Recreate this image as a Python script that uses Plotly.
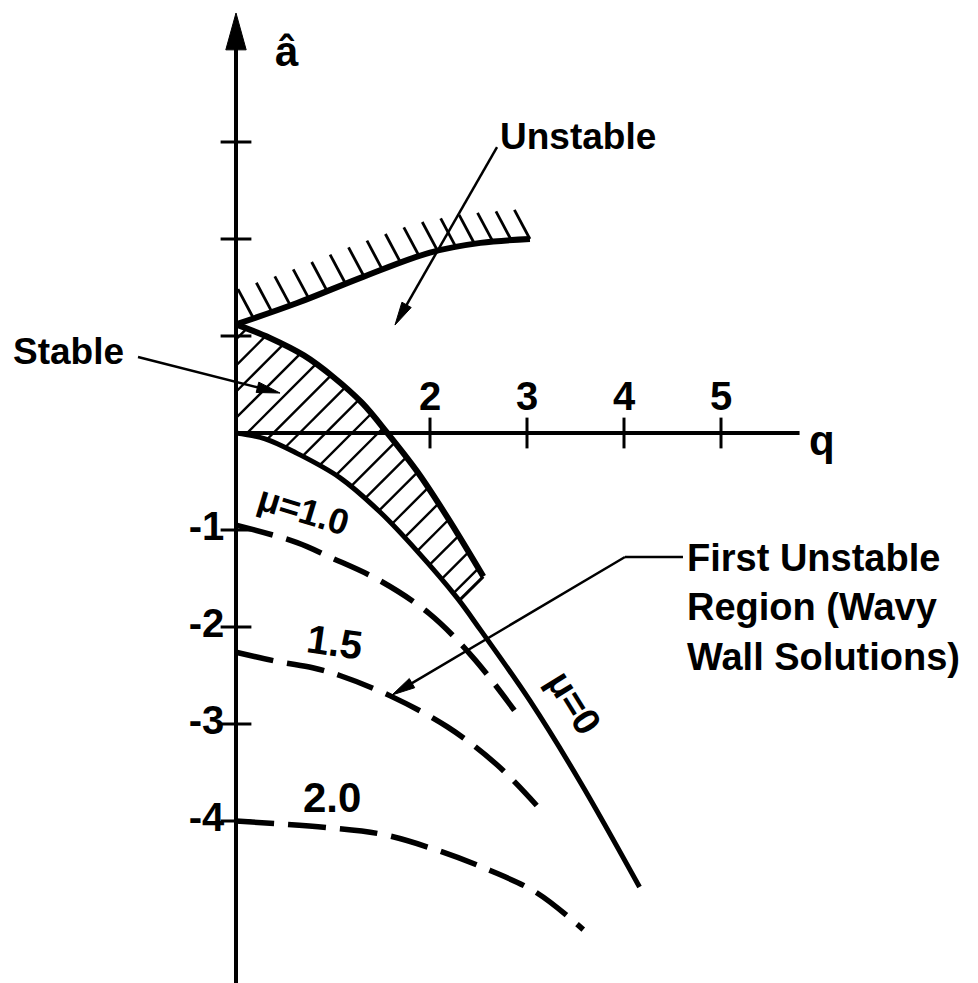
import numpy as np
import plotly.graph_objects as go

# ---------------- data ----------------
Q_TICKS = [2, 3, 4, 5]
Q_TICK_LABELS = ["2", "3", "4", "5"]
A_TICKS = [3, 2, 1, -1, -2, -3, -4]
A_LABEL_TICKS = [-1, -2, -3, -4]
A_TICK_LABELS = ["-1", "-2", "-3", "-4"]

# mu = 0 (solid)
q_mu0 = [0, 0.30, 0.63, 1.07, 1.49, 1.87, 2.28, 2.52, 3.03, 3.55, 4.16]
a_mu0 = [0, -0.06, -0.21, -0.46, -0.82, -1.22, -1.70, -2.03, -2.76, -3.60, -4.68]

# mu = 1.0 (dashed)
q_mu10 = [0, 0.63, 0.97, 1.48, 1.99, 2.44, 2.87]
a_mu10 = [-0.95, -1.13, -1.28, -1.52, -1.86, -2.31, -2.86]

# mu = 1.5 (dashed)
q_mu15 = [0, 0.45, 0.79, 1.07, 1.59, 2.18, 2.69, 3.10]
a_mu15 = [-2.26, -2.36, -2.42, -2.50, -2.71, -3.03, -3.42, -3.84]

# mu = 2.0 (dashed)
q_mu20 = [0, 0.97, 1.52, 2.07, 2.62, 3.10, 3.58]
a_mu20 = [-4.0, -4.07, -4.14, -4.30, -4.51, -4.74, -5.12]

# boundary of the unstable region (upper, hatched on top)
q_unst = [0, 0.63, 1.31, 2.0, 2.52, 3.03]
a_unst = [1.12, 1.34, 1.61, 1.86, 1.96, 2.0]

# upper boundary of the stable (hatched) region
q_stab = [0, 0.35, 0.70, 1.00, 1.30, 1.56, 1.87, 2.18, 2.55]
a_stab = [1.12, 0.98, 0.80, 0.58, 0.31, 0.0, -0.40, -0.87, -1.48]
STABLE_CLOSE_Q = 2.30   # where the stable region closes on the mu=0 curve

# ---------------- geometry of the frame ----------------
W, H = 978, 983
PX = 97.0                 # pixels per unit, both axes
X0_PX, Y0_PX = 236.0, 433.0
XR = [(0 - X0_PX) / PX, (W - X0_PX) / PX]
YR = [(Y0_PX - H) / PX, Y0_PX / PX]
A_AXIS_TOP = 4.33
A_AXIS_BOTTOM = -5.9
Q_AXIS_END = 5.81

FONT = "Liberation Sans"
BLACK = "black"

fig = go.Figure()


def add_line(xs, ys, width, dash="solid", shape="spline"):
    fig.add_trace(go.Scatter(x=xs, y=ys, mode="lines",
                             line=dict(color=BLACK, width=width, dash=dash, shape=shape),
                             hoverinfo="skip", showlegend=False))


def add_arrow(x0, y0, x1, y1, width=2.5, head_len=0.24, head_w=0.11):
    dx, dy = x1 - x0, y1 - y0
    L = np.hypot(dx, dy)
    ux, uy = dx / L, dy / L
    bx, by = x1 - ux * head_len, y1 - uy * head_len
    px, py = -uy, ux
    add_line([x0, bx + ux * 0.02], [y0, by + uy * 0.02], width, shape="linear")
    fig.add_trace(go.Scatter(
        x=[x1, bx + px * head_w / 2, bx - px * head_w / 2, x1],
        y=[y1, by + py * head_w / 2, by - py * head_w / 2, y1],
        mode="lines", fill="toself", fillcolor=BLACK,
        line=dict(color=BLACK, width=1), hoverinfo="skip", showlegend=False))


def hatch_polygon(pq, pa, step, slope=1.0):
    """Segments of the lines a = slope*q + c clipped to the polygon (pq, pa)."""
    pq = list(pq) + [pq[0]]
    pa = list(pa) + [pa[0]]
    vals = [a - slope * q for q, a in zip(pq, pa)]
    xs, ys = [], []
    for c in np.arange(min(vals) + step / 2, max(vals), step):
        pts = []
        for i in range(len(pq) - 1):
            f1 = pa[i] - slope * pq[i] - c
            f2 = pa[i + 1] - slope * pq[i + 1] - c
            if (f1 < 0) != (f2 < 0):
                t = f1 / (f1 - f2)
                pts.append(pq[i] + t * (pq[i + 1] - pq[i]))
        pts.sort()
        for j in range(0, len(pts) - 1, 2):
            xs += [pts[j], pts[j + 1], None]
            ys += [slope * pts[j] + c, slope * pts[j + 1] + c, None]
    return xs, ys


# ---- stable hatched region ----
qc = STABLE_CLOSE_Q
ac = float(np.interp(qc, q_mu0, a_mu0))
low_q = [q for q in q_mu0 if q < qc]
low_a = [a for q, a in zip(q_mu0, a_mu0) if q < qc]
poly_q = [0] + q_stab + [qc] + low_q[::-1]
poly_a = [0] + a_stab + [ac] + low_a[::-1]
sx, sy = hatch_polygon(poly_q, poly_a, 0.27, slope=1.0)
add_line(sx, sy, 2.4, shape="linear")

# ---- hatch marks on the unstable boundary ----
HATCH_STEP = 0.19
HATCH_DQ, HATCH_DA = -0.16, 0.30
hq, ha = [], []
for q in np.arange(q_unst[-1], 0.04, -HATCH_STEP):
    a = float(np.interp(q, q_unst, a_unst))
    t = 1.0
    if q + HATCH_DQ < 0:
        t = q / (-HATCH_DQ)
    hq += [q, q + t * HATCH_DQ, None]
    ha += [a, a + t * HATCH_DA, None]
add_line(hq, ha, 2.8, shape="linear")

# ---- boundaries and curves ----
add_line(q_unst, a_unst, 6)
add_line(q_stab, a_stab, 6)
add_line([q_stab[-1], qc], [a_stab[-1], ac], 3, shape="linear")
add_line(q_mu0, a_mu0, 5)
DASH = "38px,14px"
add_line(q_mu10, a_mu10, 5.5, dash=DASH)
add_line(q_mu15, a_mu15, 5.5, dash=DASH)
add_line(q_mu20, a_mu20, 5.5, dash=DASH)

# ---- axes ----
add_line([0, 0], [A_AXIS_BOTTOM, A_AXIS_TOP - 0.3], 4, shape="linear")
add_arrow(0, A_AXIS_TOP - 0.5, 0, A_AXIS_TOP, width=4, head_len=0.38, head_w=0.21)
add_line([0, Q_AXIS_END], [0, 0], 4, shape="linear")

fig.add_trace(go.Scatter(x=[0] * len(A_TICKS), y=A_TICKS, mode="markers",
                         marker=dict(symbol="line-ew", size=22,
                                     line=dict(color=BLACK, width=3)),
                         hoverinfo="skip", showlegend=False))
fig.add_trace(go.Scatter(x=Q_TICKS, y=[0] * len(Q_TICKS), mode="markers",
                         marker=dict(symbol="line-ns", size=22,
                                     line=dict(color=BLACK, width=3)),
                         hoverinfo="skip", showlegend=False))
fig.add_trace(go.Scatter(x=Q_TICKS, y=[0.34] * len(Q_TICKS), mode="text",
                         text=Q_TICK_LABELS, textposition="middle center",
                         textfont=dict(family=FONT, size=40, color=BLACK, weight="bold"),
                         hoverinfo="skip", showlegend=False))
fig.add_trace(go.Scatter(x=[-0.12] * len(A_LABEL_TICKS), y=A_LABEL_TICKS, mode="text",
                         text=A_TICK_LABELS, textposition="middle left",
                         textfont=dict(family=FONT, size=40, color=BLACK, weight="bold"),
                         hoverinfo="skip", showlegend=False))

# ---- pointer arrows ----
add_arrow(2.691, 2.948, 1.639, 1.113)
add_arrow(-1.010, 0.784, 0.454, 0.412)
add_line([4.608, 4.010], [-1.278, -1.278], 2.5, shape="linear")
add_arrow(4.010, -1.278, 1.608, -2.701)


def label(text, x, y, size, angle=0, xanchor="center", align="center", weight="bold"):
    fig.add_annotation(x=x, y=y, text=text, showarrow=False, textangle=angle,
                       xanchor=xanchor, yanchor="middle", align=align,
                       font=dict(family=FONT, size=size, color=BLACK, weight=weight))


label("Unstable", 3.526, 3.052, 37)
label("Stable", -1.732, 0.845, 37)
label("First Unstable<br>Region (Wavy<br>Wall Solutions)", 4.629, -1.80, 38,
      xanchor="left", align="left")
label("â", 0.526, 3.93, 42)
label("q", 6.04, -0.08, 42)
label("μ=1.0", 0.70, -0.80, 36, angle=17)
label("1.5", 1.02, -2.15, 40, angle=8)
label("2.0", 0.99, -3.76, 42)
label("μ=0", 3.49, -2.78, 38, angle=58)

fig.update_layout(
    width=W, height=H, autosize=False,
    margin=dict(l=0, r=0, t=0, b=0),
    paper_bgcolor="white", plot_bgcolor="white",
    xaxis=dict(range=XR, visible=False, fixedrange=True),
    yaxis=dict(range=YR, visible=False, fixedrange=True),
    showlegend=False,
)

fig.write_html("out.html", config={"displayModeBar": False},
               post_script="document.body.style.margin='0';")
